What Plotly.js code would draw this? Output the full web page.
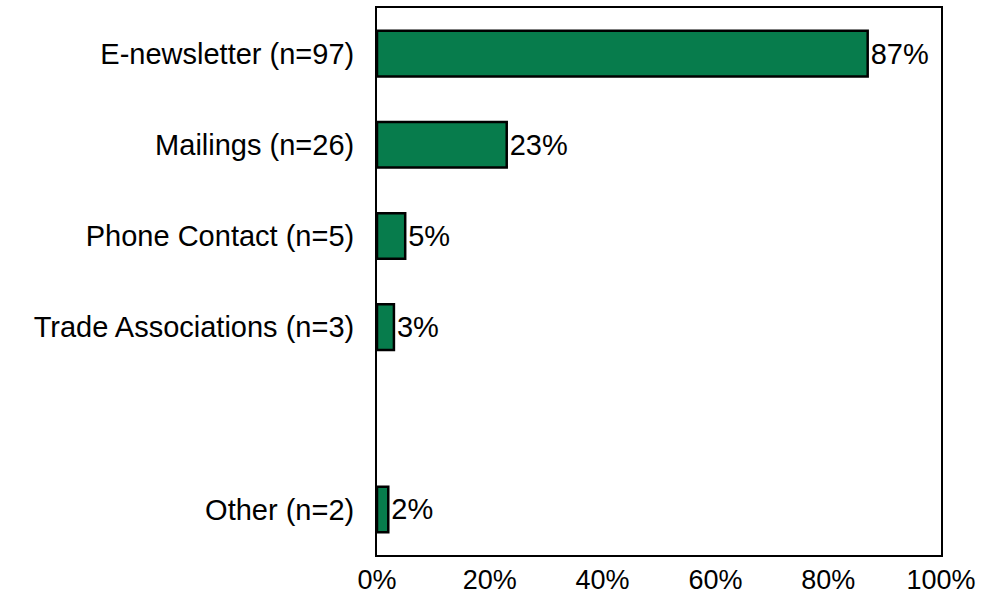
<!DOCTYPE html>
<html>
<head>
<meta charset="utf-8">
<script src="https://cdn.plot.ly/plotly-3.0.1.min.js"></script>
<style>html,body{margin:0;padding:0;background:#fff;}#chart{width:982px;height:598px;}</style>
</head>
<body>
<div id="chart"></div>
<script>
const categories = ['E-newsletter (n=97)', 'Mailings (n=26)', 'Phone Contact (n=5)', 'Trade Associations (n=3)', ' ', 'Other (n=2)'];
const percents = [87, 23, 5, 3, null, 2];
const xTickVals = [0, 20, 40, 60, 80, 100];
const xTickText = ['0%', '20%', '40%', '60%', '80%', '100%'];

const fontFamily = '"Liberation Sans", Arial, sans-serif';

const trace = {
  type: 'bar',
  orientation: 'h',
  y: categories,
  x: percents,
  width: 0.5,
  marker: { color: '#077C4C', line: { color: '#000000', width: 2.5 } },
  texttemplate: '%{x}%',
  textposition: 'outside',
  textfont: { family: fontFamily, size: 29, color: '#000' },
  cliponaxis: false,
  hoverinfo: 'skip'
};

const layout = {
  width: 982, height: 598,
  margin: { l: 377, r: 41, t: 8, b: 43 },
  paper_bgcolor: '#fff', plot_bgcolor: '#fff',
  showlegend: false,
  font: { family: fontFamily, size: 29, color: '#000' },
  xaxis: {
    range: [0, 100],
    tickmode: 'array',
    tickvals: xTickVals,
    ticktext: xTickText,
    showgrid: false, zeroline: false,
    showline: true, linecolor: '#000', linewidth: 2, mirror: true,
    ticks: '', ticklabelstandoff: 0,
    tickfont: { family: fontFamily, size: 27, color: '#000' }
  },
  yaxis: {
    type: 'category',
    categoryorder: 'array',
    categoryarray: categories,
    autorange: 'reversed',
    showgrid: false, zeroline: false,
    showline: true, linecolor: '#000', linewidth: 2, mirror: true,
    ticks: '', ticklabelstandoff: 15,
    tickfont: { family: fontFamily, size: 29, color: '#000' }
  }
};

Plotly.newPlot('chart', [trace], layout, { displayModeBar: false, staticPlot: true });
</script>
</body>
</html>
